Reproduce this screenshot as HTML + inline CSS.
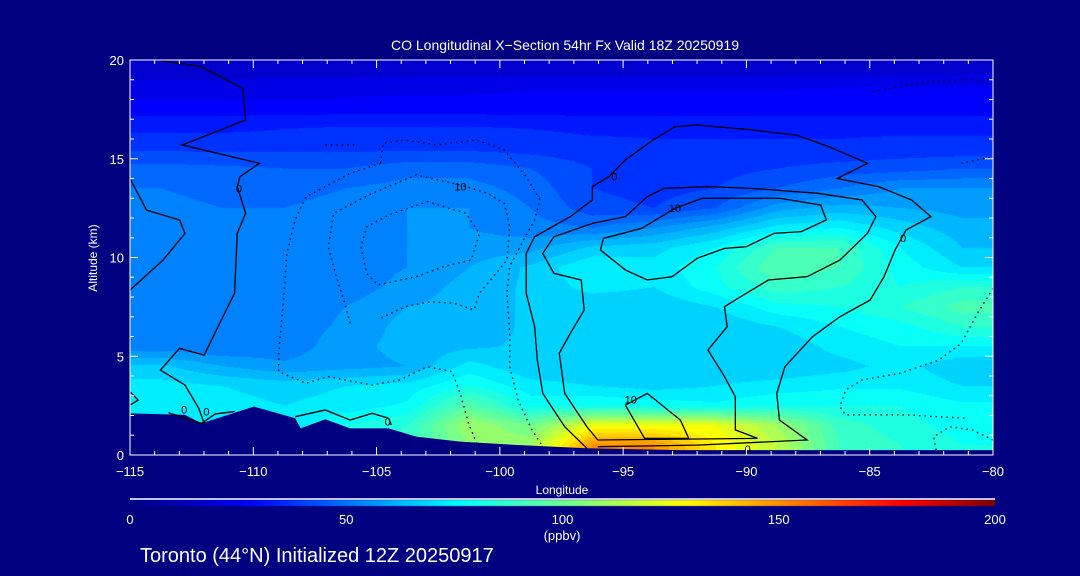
<!DOCTYPE html>
<html><head><meta charset="utf-8"><style>
body{margin:0;background:#000080;width:1080px;height:576px;overflow:hidden;font-family:"Liberation Sans",sans-serif}
#root{position:relative;width:1080px;height:576px}
canvas,svg{position:absolute;left:0;top:0}
</style></head><body><div id="root">
<canvas id="hm" width="1080" height="576"></canvas>
<svg id="sv" width="1080" height="576"></svg>
</div>
<script>
const lonCenters=[-113.75,-111.25,-108.75,-106.25,-103.75,-101.25,-98.75,-96.25,-93.75,-91.25,-88.75,-86.25,-83.75,-81.25];
const altCenters=[19.5,18.5,17.5,16.5,15.5,14.5,13.5,12.5,11.5,10.5,9.5,8.5,7.5,6.5,5.5,4.5,3.5,2.5,1.5,0.5];
const coValues=[
[18,18,18,18,18,18,18,18,18,18,18,18,18,18],
[22,22,23,23,24,24,25,25,25,25,25,26,26,26],
[28,28,28,28,28,28,28,28,28,28,28,28,28,28],
[34,34,35,36,36,36,35,34,34,34,34,34,34,34],
[39,39,39,39,39,39,38,37,36,36,36,36,37,37],
[47,46,45,45,48,48,45,40,38,38,40,42,43,45],
[50,48,48,50,52,52,48,40,38,40,45,50,55,55],
[52,50,50,52,55,55,50,42,40,45,58,62,60,58],
[52,50,50,52,55,55,52,50,55,62,72,75,68,62],
[52,50,50,52,55,57,58,66,68,75,90,90,75,65],
[50,50,50,52,55,60,66,75,72,80,95,90,78,70],
[50,50,50,52,57,62,66,72,70,78,88,85,80,85],
[50,50,52,55,60,62,66,66,66,70,78,80,85,92],
[50,50,52,56,62,62,66,66,66,66,70,75,78,85],
[52,50,52,58,62,64,66,66,66,66,66,72,75,75],
[66,60,56,58,60,72,66,66,66,66,66,68,72,66],
[72,70,68,70,72,80,72,70,68,70,72,74,74,70],
[72,72,70,72,76,95,78,80,78,76,80,80,80,76],
[72,72,72,80,85,110,100,125,125,125,110,88,82,78],
[72,72,72,80,88,105,110,150,150,130,115,90,85,80]];
const terrainLon=[-115,-112.77,-112.1,-109.98,-108.3,-108.08,-107.08,-106.07,-104.51,-103.39,-101.61,-99.38,-96.47,-92.68,-80];
const terrainAlt=[2.11,2.03,1.6,2.45,1.86,1.35,1.81,1.35,1.35,0.93,0.68,0.51,0.34,0.25,0.25];
const xTicks=[-115,-110,-105,-100,-95,-90,-85,-80];
const yTicks=[0,5,10,15,20];
const cbTicks=[0,50,100,150,200];
const contourSolid=[
[[-96.47,0.34],[-97.37,1.43],[-98.26,3.12],[-98.48,4.81],[-98.59,6.5],[-98.93,8.19],[-98.93,10.21],[-98.59,11.05],[-97.14,12.07],[-96.25,12.91],[-96.25,13.59],[-95.58,14.09],[-94.91,14.94],[-93.79,15.95],[-92.9,16.62],[-92.0,16.71],[-89.78,16.46],[-87.99,16.2],[-86.65,15.61],[-85.09,14.77],[-86.32,14.0],[-84.64,13.59],[-83.3,12.91],[-82.52,12.07],[-83.53,11.39],[-83.97,10.38],[-84.42,9.03],[-84.98,7.85],[-86.21,7.0],[-87.32,5.99],[-88.44,4.47],[-88.77,3.12],[-88.66,1.77],[-87.54,0.76],[-92,0.5],[-96.03,0.42]],
[[-96.03,0.76],[-96.47,1.43],[-97.37,3.12],[-97.59,5.15],[-97.14,6.16],[-96.58,7.34],[-96.7,8.86],[-97.81,9.2],[-98.26,10.21],[-97.81,11.05],[-96.25,11.73],[-94.91,12.07],[-94.02,13.08],[-93.35,13.5],[-91.56,13.59],[-89.78,13.5],[-87.1,13.25],[-85.31,12.91],[-84.75,12.07],[-85.09,11.22],[-86.21,9.87],[-87.54,9.03],[-89.11,8.86],[-90.45,7.85],[-90.89,7.51],[-90.78,6.5],[-91.56,5.32],[-90.89,3.97],[-90.45,2.95],[-90.45,1.27],[-89.55,0.84],[-96.03,0.76]],
[[-95.8,10.97],[-95.92,10.38],[-94.91,9.37],[-94.02,8.86],[-93.01,9.03],[-92.0,9.96],[-90.89,10.46],[-90.0,10.55],[-88.88,11.22],[-87.77,11.31],[-86.76,11.9],[-86.99,12.66],[-88.66,13.0],[-91.79,13.0],[-92.9,12.49],[-94.24,11.48],[-95.8,10.97]],
[[-94.91,2.53],[-94.02,3.12],[-92.68,1.77],[-92.34,0.84],[-94.13,0.84],[-94.91,2.53]],
[[-113.88,20],[-112.1,19.66],[-110.42,18.57],[-110.31,16.96],[-112.88,15.7],[-109.75,14.77],[-110.54,14.09],[-110.65,13.59],[-110.31,12.24],[-110.65,11.22],[-110.76,8.19],[-111.43,6.5],[-111.99,5.06],[-112.99,5.4],[-113.77,4.3],[-112.77,3.54],[-112.21,2.36],[-111.99,1.6]],
[[-115,14.0],[-114.33,12.4],[-112.99,11.9],[-112.77,11.22],[-113.66,9.87],[-115,8.35]],
[[-115,3.2],[-114.67,2.78],[-115,2.53]],
[[-113.44,2.14],[-112.1,1.6],[-111.54,2.08],[-110.76,2.2]],
[[-108.3,1.94],[-107.08,2.28],[-106.07,1.77],[-105.18,2.11],[-104.51,1.86],[-104.4,1.52]]];
const contourDotted=[
[[-104.84,14.77],[-104.73,15.78],[-103.84,15.95],[-102.61,15.7],[-100.94,15.95],[-99.82,15.44],[-98.93,14.09],[-98.37,12.91],[-98.59,11.9],[-99.04,10.89],[-99.6,9.54],[-99.71,8.19],[-99.6,6.16],[-99.6,4.47],[-99.26,2.78],[-98.7,1.27],[-98.26,0.42]],
[[-104.84,14.77],[-106.07,14.26],[-107.86,13.08],[-108.3,11.9],[-108.64,10.21],[-108.75,8.19],[-108.97,5.15],[-108.97,4.22],[-107.86,3.63],[-106.96,3.97],[-105.18,3.54],[-104.06,3.8],[-102.95,4.47],[-101.94,4.22],[-101.61,3.12],[-101.27,1.6],[-100.94,0.59]],
[[-106.07,6.67],[-106.29,7.68],[-106.63,9.03],[-106.96,10.55],[-106.74,12.24],[-105.18,13.25],[-103.39,14.18],[-101.61,13.67],[-100.49,13.25],[-99.82,12.74],[-99.6,11.56],[-99.71,9.87],[-100.27,9.03],[-100.83,8.19],[-101.05,7.34],[-101.83,7.68],[-102.83,7.76],[-103.84,7.51],[-104.84,6.92]],
[[-102.95,12.83],[-101.38,12.24],[-100.83,11.22],[-101.16,9.87],[-102.28,9.54],[-103.39,9.03],[-104.96,8.61],[-105.4,9.2],[-105.63,10.55],[-105.4,11.56],[-104.51,12.15],[-102.95,12.83]],
[[-80,8.44],[-80.63,7.17],[-81.29,5.65],[-82.19,4.81],[-83.75,4.14],[-85.31,3.8],[-85.98,3.29],[-86.21,2.45],[-85.98,2.03],[-83.53,2.03],[-81.07,1.86]],
[[-82.3,0.25],[-82.41,0.93],[-81.74,1.43],[-80.85,1.27],[-80,0.76]],
[[-84.87,18.4],[-83.75,18.65],[-82.63,18.9],[-81.29,18.99],[-80,18.99]],
[[-81.29,14.77],[-80,15.1]],
[[-107.08,15.7],[-105.85,15.7]]];
const contourLabels=[[-110.58,13.5,"0"],[-95.36,14.1,"0"],[-101.6,13.6,"10"],[-92.9,12.5,"10"],[-83.64,11.0,"0"],[-94.69,2.8,"10"],[-89.95,0.3,"0"],[-112.8,2.3,"0"],[-111.9,2.2,"0"],[-104.55,1.7,"0"]];

const X0=130,X1=993,Y0=455,Y1=60;
const xs=l=>X0+(l+115)/35*(X1-X0);
const ys=a=>Y0-a/20*(Y0-Y1);
const stops=[[0,[0,0,128]],[0.14,[0,0,255]],[0.38,[0,255,255]],[0.52,[128,255,128]],[0.64,[255,255,0]],[0.89,[255,0,0]],[1,[128,0,0]]];
function cmap(v){let t=Math.max(0,Math.min(1,v/200));for(let i=1;i<stops.length;i++){if(t<=stops[i][0]){const a=stops[i-1],b=stops[i],f=(t-a[0])/(b[0]-a[0]);return a[1].map((c,k)=>Math.round(c+(b[1][k]-c)*f));}}return stops[stops.length-1][1];}
const cv=document.getElementById('hm'),ctx=cv.getContext('2d');
const W=X1-X0,H=Y0-Y1,img=ctx.createImageData(W,H);
const nc=lonCenters.length,nr=altCenters.length;
for(let py=0;py<H;py++){
 const alt=20-(py+0.5)/H*20;
 let fr=(altCenters[0]-alt)/(altCenters[0]-altCenters[1]);fr=Math.max(0,Math.min(nr-1,fr));
 const r0=Math.floor(fr),r1=Math.min(nr-1,r0+1),ty=fr-r0;
 for(let px=0;px<W;px++){
  const lon=-115+(px+0.5)/W*35;
  let fc=(lon-lonCenters[0])/(lonCenters[1]-lonCenters[0]);fc=Math.max(0,Math.min(nc-1,fc));
  const c0=Math.floor(fc),c1=Math.min(nc-1,c0+1),tx=fc-c0;
  const v=(coValues[r0][c0]*(1-tx)+coValues[r0][c1]*tx)*(1-ty)+(coValues[r1][c0]*(1-tx)+coValues[r1][c1]*tx)*ty;
  const q=Math.floor(v/5)*5+2.5,col=cmap(q),i=(py*W+px)*4;
  img.data[i]=col[0];img.data[i+1]=col[1];img.data[i+2]=col[2];img.data[i+3]=255;
 }}
ctx.putImageData(img,X0,Y1);
const cb=ctx.createLinearGradient(130,0,995,0);
for(let i=0;i<=40;i++){const c=cmap(i*5);cb.addColorStop(i/40,`rgb(${c})`);}
ctx.fillStyle=cb;ctx.fillRect(130,500,865,6);

const sv=document.getElementById('sv'),NS='http://www.w3.org/2000/svg';
function mk(t,a,p){const e=document.createElementNS(NS,t);for(const k in a)e.setAttribute(k,a[k]);(p||sv).appendChild(e);return e;}
let tp='';terrainLon.forEach((l,i)=>tp+=(i?'L':'M')+xs(l)+','+ys(terrainAlt[i]));tp+='L'+X1+','+Y0+'L'+X0+','+Y0+'Z';
const ter=mk('path',{d:tp,fill:'#000080'});


contourSolid.forEach(c=>{const p=mk('polyline',{points:c.map(q=>xs(q[0])+','+ys(q[1])).join(' '),fill:'none',stroke:'#000','stroke-width':1.3});

});
contourDotted.forEach(c=>{const p=mk('polyline',{points:c.map(q=>xs(q[0])+','+ys(q[1])).join(' '),fill:'none',stroke:'#000','stroke-width':1.3,'stroke-dasharray':'1.5 4'});

});
contourLabels.forEach(q=>{const t=mk('text',{x:xs(q[0]),y:ys(q[1])+4,'font-size':11,fill:'#000','text-anchor':'middle'});t.textContent=q[2];

});
mk('rect',{x:X0,y:Y1,width:X1-X0,height:Y0-Y1,fill:'none',stroke:'#fff','stroke-width':1});
xTicks.forEach((v,i)=>{const x=xs(v);mk('line',{x1:x,x2:x,y1:Y0,y2:Y0-8,stroke:'#fff'});mk('line',{x1:x,x2:x,y1:Y1,y2:Y1+8,stroke:'#fff'});
if(i<xTicks.length-1)for(let m=1;m<5;m++){const xm=xs(v+m);mk('line',{x1:xm,x2:xm,y1:Y0,y2:Y0-4,stroke:'#fff'});mk('line',{x1:xm,x2:xm,y1:Y1,y2:Y1+4,stroke:'#fff'});}
const t=mk('text',{x:x,y:476,fill:'#fff','font-size':13,'text-anchor':'middle'});t.textContent=v<0?'\u2212'+(-v):v;

});
yTicks.forEach((v,i)=>{const y=ys(v);mk('line',{x1:X0,x2:X0+8,y1:y,y2:y,stroke:'#fff'});mk('line',{x1:X1,x2:X1-8,y1:y,y2:y,stroke:'#fff'});
if(i<yTicks.length-1)for(let m=1;m<5;m++){const ym=ys(v+m);mk('line',{x1:X0,x2:X0+4,y1:ym,y2:ym,stroke:'#fff'});mk('line',{x1:X1,x2:X1-4,y1:ym,y2:ym,stroke:'#fff'});}
const t=mk('text',{x:124,y:y+5,fill:'#fff','font-size':13,'text-anchor':'end'});t.textContent=v;

});
mk('line',{x1:130,x2:995,y1:499,y2:499,stroke:'#fff','stroke-width':1.5});
cbTicks.forEach(v=>{const t=mk('text',{x:130+v/200*865,y:524,fill:'#fff','font-size':13,'text-anchor':'middle'});t.textContent=v;

});
function txt(s,a,name){const t=mk('text',Object.assign({fill:'#fff'},a));t.textContent=s;return t;}
txt('CO Longitudinal X\u2212Section 54hr  Fx Valid 18Z 20250919',{x:565,y:50,'font-size':14,'text-anchor':'middle','xml:space':'preserve'},'chart-title');
txt('Longitude',{x:562,y:494,'font-size':12,'text-anchor':'middle'},'x-axis-title');
txt('Altitude (km)',{x:97,y:258,'font-size':12,'text-anchor':'middle',transform:'rotate(-90 97 258)'},'y-axis-title');
txt('(ppbv)',{x:562,y:540,'font-size':13,'text-anchor':'middle'},'colorbar-units');
txt('Toronto (44\u00b0N) Initialized 12Z 20250917',{x:140,y:562,'font-size':20},'footer-caption');
</script></body></html>
